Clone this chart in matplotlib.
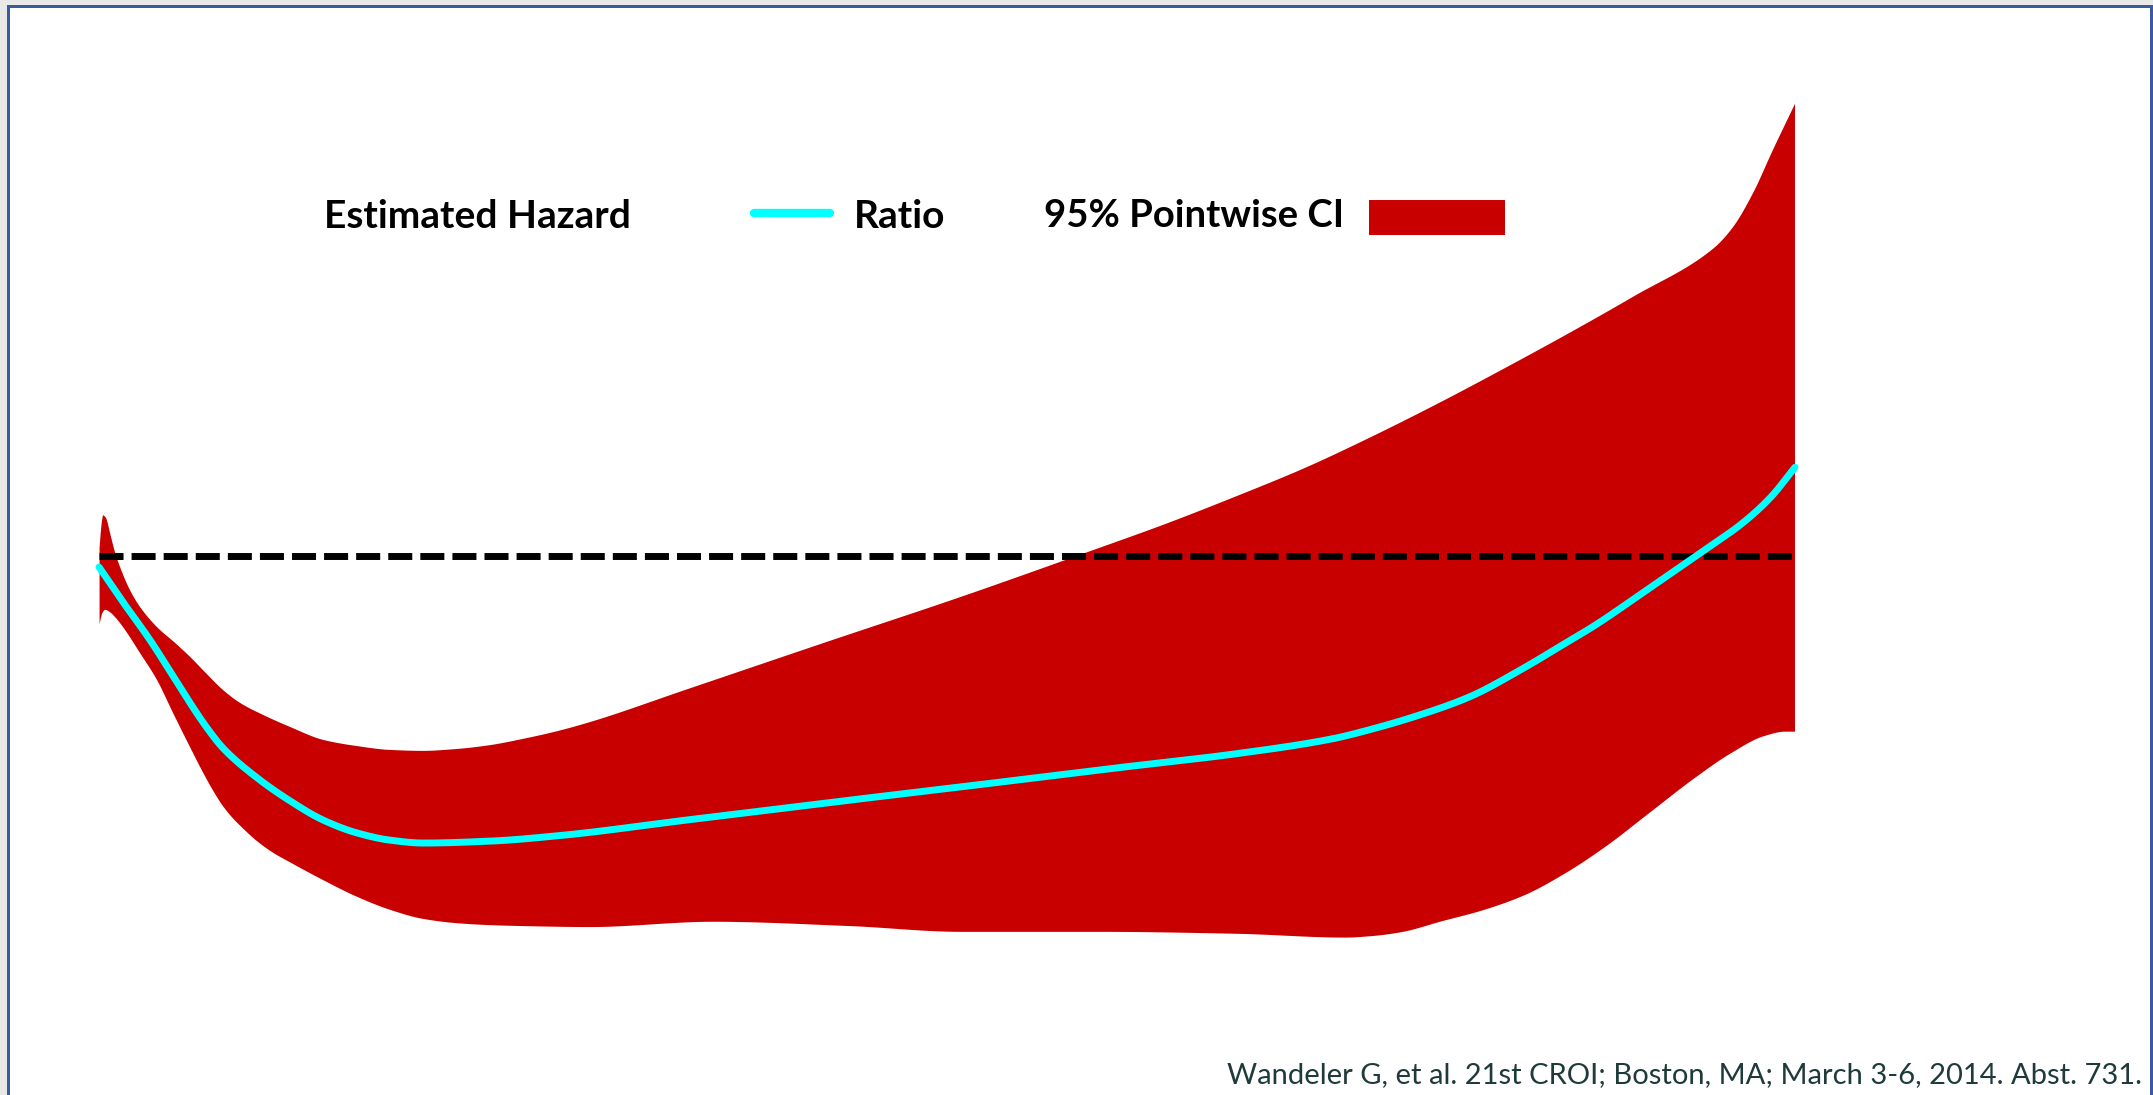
import numpy as np
import matplotlib
matplotlib.use("Agg")
import matplotlib.pyplot as plt
from matplotlib.patches import Rectangle
from matplotlib.lines import Line2D

# Time axis (years) and estimated hazard ratio with its 95% pointwise CI
upper_t = [0.004, 0.014, 0.028, 0.050, 0.078, 0.113, 0.149, 0.219, 0.290, 0.410,
           0.538, 0.644, 0.750, 0.877, 0.998, 1.175, 1.351, 1.585, 1.826, 2.059,
           2.293, 2.533, 2.767, 3.000, 3.241, 3.474, 4.158, 5.129, 6.100, 6.974,
           7.557, 8.043, 8.529, 9.015, 9.502, 9.913, 10.387, 10.854, 11.424,
           11.561, 11.703, 11.844, 12.000]
upper_hr = [1.017, 1.054, 1.085, 1.079, 1.048, 1.008, 0.977, 0.929, 0.894, 0.852,
            0.819, 0.790, 0.758, 0.721, 0.694, 0.667, 0.644, 0.617, 0.604, 0.596,
            0.594, 0.598, 0.606, 0.619, 0.635, 0.654, 0.722, 0.819, 0.915, 1.006,
            1.068, 1.124, 1.183, 1.250, 1.322, 1.386, 1.462, 1.540, 1.641,
            1.685, 1.756, 1.846, 1.942]

lower_t = [0.004, 0.021, 0.043, 0.078, 0.113, 0.170, 0.290, 0.410, 0.524, 0.644,
           0.736, 0.800, 0.870, 0.940, 1.010, 1.118, 1.231, 1.351, 1.585, 1.826,
           2.059, 2.293, 2.533, 2.767, 3.000, 3.474, 4.344, 5.314, 6.099, 7.068,
           8.045, 8.821, 9.000, 9.209, 9.501, 9.792, 10.084, 10.375, 10.667,
           10.958, 11.298, 11.541, 11.784, 11.929, 12.000]
lower_hr = [0.858, 0.879, 0.888, 0.883, 0.873, 0.852, 0.798, 0.742, 0.673, 0.602,
            0.549, 0.515, 0.482, 0.456, 0.435, 0.406, 0.382, 0.362, 0.325, 0.290,
            0.263, 0.244, 0.235, 0.231, 0.229, 0.227, 0.238, 0.229, 0.217, 0.217,
            0.213, 0.205, 0.208, 0.216, 0.239, 0.262, 0.293, 0.339, 0.396,
            0.462, 0.539, 0.588, 0.625, 0.634, 0.634]

ratio_t = [0.000, 0.170, 0.361, 0.524, 0.644, 0.764, 0.877, 1.118, 1.351, 1.585,
           1.826, 2.059, 2.293, 2.767, 3.241, 4.160, 5.130, 6.099, 7.068, 8.045,
           8.724, 9.014, 9.304, 9.693, 10.083, 10.373, 10.571, 10.960, 11.300,
           11.639, 11.830, 12.000]
ratio_hr = [0.977, 0.904, 0.825, 0.750, 0.694, 0.642, 0.600, 0.538, 0.490, 0.450,
            0.423, 0.408, 0.402, 0.406, 0.417, 0.450, 0.485, 0.519, 0.554, 0.588,
            0.619, 0.640, 0.665, 0.706, 0.767, 0.818, 0.853, 0.931, 1.000,
            1.071, 1.123, 1.185]

reference_hr = 1.0
t_start, t_end = 0.0, 12.0

legend_labels = ["Estimated Hazard", "Ratio", "95% Pointwise CI"]
source_note = "Wandeler G, et al. 21st CROI; Boston, MA; March 3-6, 2014. Abst. 731."

RED = "#C80000"
CYAN = "#00FFFF"
FRAME_BLUE = "#3B5A9B"
FRAME_GREY = "#E8E8E8"


def pchip(x, y, n=1500):
    """Shape-preserving cubic through the points, for a smooth drawn curve."""
    x = np.asarray(x, float)
    y = np.asarray(y, float)
    h = np.diff(x)
    d = np.diff(y) / h
    m = np.zeros_like(y)
    for k in range(1, len(x) - 1):
        if d[k - 1] * d[k] > 0:
            w1 = 2 * h[k] + h[k - 1]
            w2 = h[k] + 2 * h[k - 1]
            m[k] = (w1 + w2) / (w1 / d[k - 1] + w2 / d[k])
    m[0], m[-1] = d[0], d[-1]
    xs = np.linspace(x[0], x[-1], n)
    idx = np.clip(np.searchsorted(x, xs) - 1, 0, len(x) - 2)
    hk = h[idx]
    s = (xs - x[idx]) / hk
    h00 = 2 * s**3 - 3 * s**2 + 1
    h10 = s**3 - 2 * s**2 + s
    h01 = -2 * s**3 + 3 * s**2
    h11 = s**3 - s**2
    ys = h00 * y[idx] + h10 * hk * m[idx] + h01 * y[idx + 1] + h11 * hk * m[idx + 1]
    return xs, ys


W, H = 2153, 1095
fig = plt.figure(figsize=(W / 100, H / 100), dpi=100)
fig.patch.set_facecolor("white")

# Plot area spans the figure; limits place the curves inside the slide frame
px_per_year = 1696 / 12.0
px_per_unit = 480.0
x0_px, ref_px = 99, 556
ax = fig.add_axes([0, 0, 1, 1])
ax.set_xlim(-x0_px / px_per_year, (W - x0_px) / px_per_year)
ax.set_ylim(reference_hr - (H - ref_px) / px_per_unit, reference_hr + ref_px / px_per_unit)
ax.axis("off")

ut, uh = pchip(upper_t, upper_hr)
lt, lh = pchip(lower_t, lower_hr)
rt, rh = pchip(ratio_t, ratio_hr)

# Confidence band
ax.fill(np.concatenate([ut, lt[::-1]]), np.concatenate([uh, lh[::-1]]),
        color=RED, lw=0, zorder=1)

# Reference line at HR = 1
ref_line, = ax.plot([t_start, t_end], [reference_hr, reference_hr], color="black",
                    lw=5.0, solid_capstyle="butt", dash_capstyle="butt", zorder=2)
ref_line.set_dashes((17.3 / 5.0, 5.8 / 5.0))

# Estimated hazard ratio
ax.plot(rt, rh, color=CYAN, lw=5.0, solid_capstyle="round", zorder=3)

# Legend row
font_bold = dict(family=["Lato", "DejaVu Sans"], weight="bold", fontsize=28, color="black")
fig.text(324 / W, 1 - 216 / H, legend_labels[0], ha="left", va="center", **font_bold)
fig.add_artist(Line2D([754 / W, 830 / W], [1 - 213 / H, 1 - 213 / H], color=CYAN, lw=6,
                      solid_capstyle="round", transform=fig.transFigure))
fig.text(854 / W, 1 - 216 / H, legend_labels[1], ha="left", va="center", **font_bold)
fig.text(1044 / W, 1 - 216 / H, legend_labels[2], ha="left", va="center",
         **{**font_bold, "fontsize": 27.5})
fig.add_artist(Rectangle((1369 / W, 1 - 235 / H), 136 / W, 35 / H, color=RED, lw=0,
                         transform=fig.transFigure))

# Source note
fig.text(2142 / W, 1 - 1075 / H, source_note, ha="right", va="center",
         family=["Lato", "DejaVu Sans"], fontsize=21, color="#1F3A3A")

# Slide frame
for (x, y, w, h, c) in [
    (0, 0, 7, H, FRAME_GREY),
    (0, 0, W, 5, FRAME_GREY),
    (7, 5, W - 7, 3, FRAME_BLUE),
    (7, 5, 3, H - 5, FRAME_BLUE),
    (W - 3, 5, 3, H - 5, FRAME_BLUE),
]:
    fig.add_artist(Rectangle((x / W, 1 - (y + h) / H), w / W, h / H, color=c, lw=0,
                             transform=fig.transFigure))

fig.savefig("out.png", dpi=100)
